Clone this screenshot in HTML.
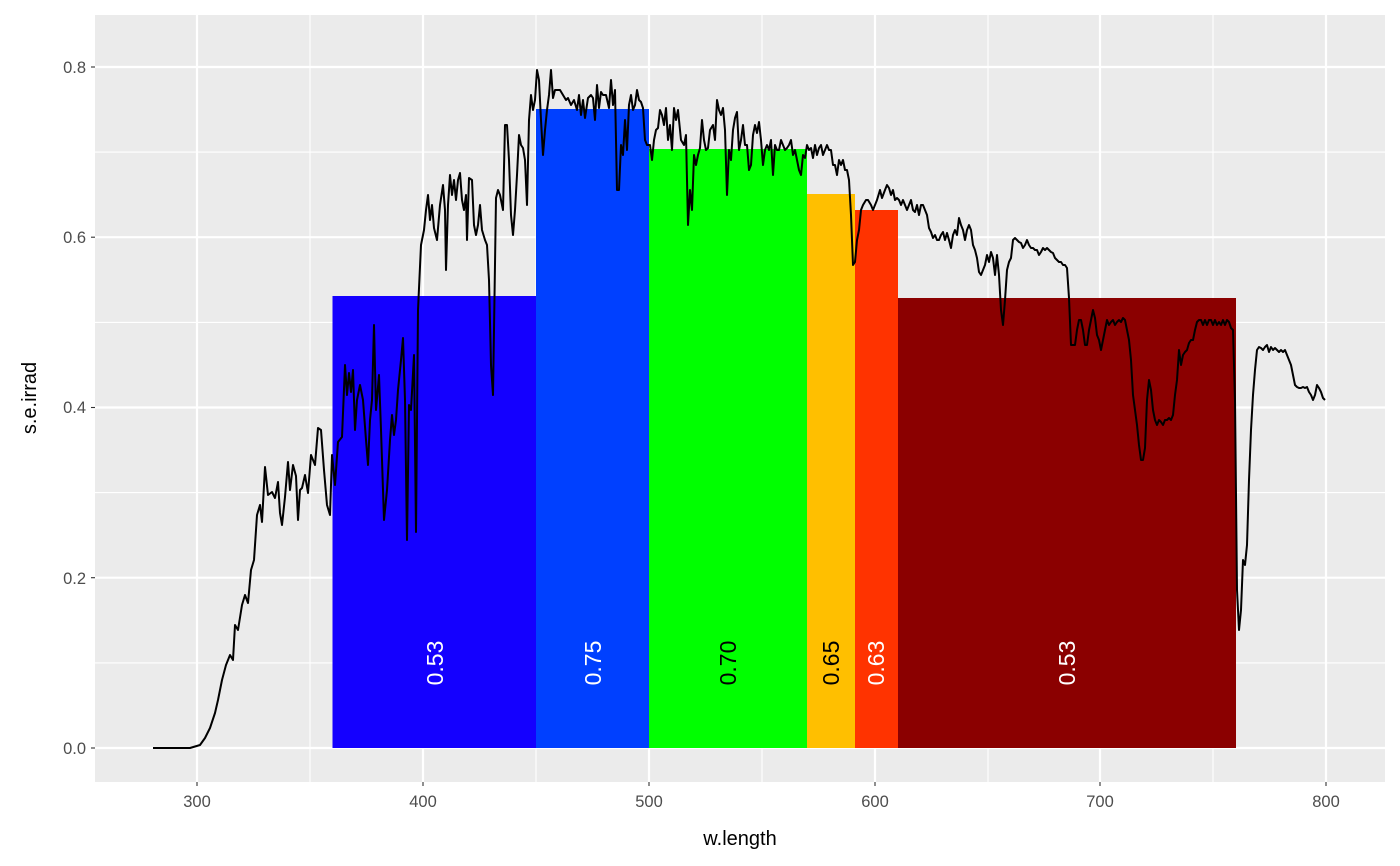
<!DOCTYPE html>
<html><head><meta charset="utf-8"><style>body{margin:0;background:#fff}svg{display:block}</style></head><body>
<svg width="1400" height="866" xmlns="http://www.w3.org/2000/svg" font-family="Liberation Sans, Arial, sans-serif">
<rect x="95" y="15" width="1290" height="767" fill="#EBEBEB"/>
<g stroke="#fff" stroke-width="1.1">
<line x1="95" x2="1385" y1="662.9" y2="662.9"/><line x1="95" x2="1385" y1="492.6" y2="492.6"/><line x1="95" x2="1385" y1="322.4" y2="322.4"/><line x1="95" x2="1385" y1="152.1" y2="152.1"/>
<line y1="15" y2="782" x1="310" x2="310"/><line y1="15" y2="782" x1="536" x2="536"/><line y1="15" y2="782" x1="762" x2="762"/><line y1="15" y2="782" x1="988" x2="988"/><line y1="15" y2="782" x1="1213" x2="1213"/>
</g>
<g stroke="#fff" stroke-width="2.2">
<line x1="95" x2="1385" y1="748" y2="748"/><line x1="95" x2="1385" y1="577.7" y2="577.7"/><line x1="95" x2="1385" y1="407.5" y2="407.5"/><line x1="95" x2="1385" y1="237.2" y2="237.2"/><line x1="95" x2="1385" y1="67" y2="67"/>
<line y1="15" y2="782" x1="197" x2="197"/><line y1="15" y2="782" x1="423" x2="423"/><line y1="15" y2="782" x1="649" x2="649"/><line y1="15" y2="782" x1="875" x2="875"/><line y1="15" y2="782" x1="1100" x2="1100"/><line y1="15" y2="782" x1="1326" x2="1326"/>
</g>
<rect x="332.5" y="296" width="203.5" height="452" fill="#1400FF"/>
<rect x="536" y="109" width="113" height="639" fill="#0040FF"/>
<rect x="649" y="149" width="158" height="599" fill="#00FF00"/>
<rect x="807" y="194" width="48" height="554" fill="#FFBF00"/>
<rect x="855" y="210" width="43" height="538" fill="#FF3300"/>
<rect x="898" y="298" width="338" height="450" fill="#8B0000"/>
<g font-size="23" text-anchor="middle">
<text transform="translate(443,663) rotate(-90)" fill="#fff">0.53</text>
<text transform="translate(601,663) rotate(-90)" fill="#fff">0.75</text>
<text transform="translate(736,663) rotate(-90)" fill="#000">0.70</text>
<text transform="translate(839,663) rotate(-90)" fill="#000">0.65</text>
<text transform="translate(884,663) rotate(-90)" fill="#fff">0.63</text>
<text transform="translate(1075,663) rotate(-90)" fill="#fff">0.53</text>
</g>
<polyline fill="none" stroke="#000" stroke-width="2" stroke-linejoin="round" points="153,748 190,748 200,745 205,738 210,728 215,713 218,700 222,680 226,665 230,655 233,660 235,625 238,630 242,605 245,595 248,603 251,570 254,560 257,515 260,505 262,522 265,467 268,495 272,492 275,498 278,482 280,513 282,525 285,497 288,462 290,490 293,465 296,476 298,520 300,490 302,488 305,475 308,493 311,455 315,465 318,428 321,430 324,470 327,505 330,515 332,455 335,485 338,442 342,437 345,365 347,395 349,373 351,392 353,370 355,430 357,400 360,385 363,400 366,440 368,465 370,420 372,400 374,325 376,410 379,375 381,430 384,520 387,490 390,440 392,415 394,435 396,420 398,390 401,360 403,338 405,400 407,540 409,405 411,410 414,355 416,532 418,310 421,245 424,230 426,210 428,195 430,220 432,205 434,228 437,240 440,205 443,185 445,210 446,270 448,205 450,175 452,195 454,180 456,200 458,180 460,173 462,200 464,210 466,195 467,240 469,178 472,180 474,225 476,235 478,225 480,205 482,230 485,240 487,245 489,280 491,365 493,395 494,330 496,198 498,190 500,195 503,210 505,125 507,125 509,160 511,215 513,235 515,210 517,175 519,135 521,145 523,148 525,160 527,205 529,120 531,95 533,110 535,100 537,70 539,80 541,120 543,155 545,130 547,110 549,95 551,70 553,98 555,90 558,90 560,90 563,95 566,100 568,98 571,105 574,100 577,110 579,95 581,115 583,100 585,118 588,98 591,95 593,98 595,120 597,85 599,108 601,92 603,95 606,95 609,108 611,80 613,105 615,90 617,190 619,190 621,145 623,155 625,120 627,150 629,105 631,95 633,110 635,105 637,90 639,100 641,102 643,108 645,140 647,145 650,145 652,160 654,140 656,130 658,128 660,110 662,115 664,125 666,108 668,140 670,125 672,150 674,108 676,120 678,110 681,140 684,145 686,135 688,225 690,190 692,210 694,155 696,165 698,155 700,148 702,120 704,140 706,150 708,148 710,130 713,125 715,140 717,100 719,110 721,115 723,108 725,130 727,195 729,150 731,160 733,130 735,118 737,112 739,150 741,140 743,125 745,145 747,145 749,170 751,165 753,135 755,125 757,133 759,122 761,140 763,165 765,150 767,145 769,150 771,140 773,175 775,145 777,150 779,150 781,140 783,145 785,150 787,148 789,145 791,140 793,155 795,150 797,160 799,170 801,175 803,155 805,158 807,145 809,150 811,148 813,158 815,145 817,155 819,148 821,145 823,155 825,150 827,145 829,150 831,150 833,165 835,165 837,175 839,160 841,165 843,160 845,170 847,170 849,180 851,215 853,265 855,262 857,240 859,230 861,210 863,205 866,200 868,200 871,205 873,210 875,205 877,200 880,190 882,198 885,190 887,185 889,188 891,195 893,190 895,200 897,198 899,200 901,205 903,200 905,205 907,210 909,205 911,200 913,210 915,212 917,205 919,215 921,205 923,205 925,210 927,215 929,228 931,232 933,238 935,235 937,240 939,240 941,235 943,232 945,240 947,233 949,240 951,248 953,235 955,230 957,235 959,218 961,225 963,230 965,240 967,230 969,225 971,230 973,245 975,250 977,258 979,272 981,275 983,270 985,265 987,255 989,262 991,252 993,258 995,275 997,255 999,275 1001,310 1003,325 1005,300 1007,270 1009,262 1011,258 1013,240 1015,238 1017,240 1019,242 1021,243 1023,248 1025,245 1027,240 1029,245 1031,248 1033,248 1035,250 1037,250 1039,255 1041,252 1043,248 1045,250 1047,248 1049,250 1051,252 1053,253 1055,258 1057,260 1059,262 1061,262 1063,265 1065,265 1067,268 1069,298 1071,345 1073,345 1075,345 1077,330 1079,320 1081,320 1083,330 1085,345 1087,345 1089,330 1091,320 1093,310 1095,318 1097,335 1099,340 1101,350 1103,340 1105,330 1107,320 1109,325 1111,322 1113,320 1115,325 1117,322 1119,320 1121,322 1123,318 1125,320 1127,330 1129,340 1131,360 1133,395 1135,410 1137,425 1139,445 1141,460 1143,460 1145,448 1147,400 1149,380 1151,390 1153,410 1155,420 1157,425 1159,420 1161,422 1163,425 1165,420 1167,420 1169,418 1171,420 1173,415 1175,395 1177,380 1179,350 1181,365 1183,355 1185,352 1187,350 1189,343 1191,340 1193,340 1195,330 1197,322 1199,320 1201,320 1203,325 1205,320 1207,325 1209,320 1211,320 1213,325 1215,320 1217,325 1219,322 1221,325 1223,320 1225,325 1227,320 1229,322 1231,328 1233,330 1235,400 1237,590 1239,630 1241,610 1243,560 1245,565 1247,545 1249,480 1251,430 1253,395 1255,370 1257,350 1259,347 1261,348 1263,350 1265,347 1267,345 1269,352 1271,347 1273,350 1275,348 1277,350 1279,352 1281,350 1283,352 1285,350 1287,355 1289,360 1291,365 1293,375 1295,385 1297,387 1299,388 1301,388 1303,387 1305,388 1307,387 1309,392 1311,395 1313,400 1315,395 1317,385 1319,388 1321,392 1323,398 1325,400"/>
<g stroke="#333" stroke-width="1.1">
<line x1="91" x2="95" y1="748" y2="748"/><line x1="91" x2="95" y1="577.7" y2="577.7"/><line x1="91" x2="95" y1="407.5" y2="407.5"/><line x1="91" x2="95" y1="237.2" y2="237.2"/><line x1="91" x2="95" y1="67" y2="67"/>
<line y1="782" y2="786" x1="197" x2="197"/><line y1="782" y2="786" x1="423" x2="423"/><line y1="782" y2="786" x1="649" x2="649"/><line y1="782" y2="786" x1="875" x2="875"/><line y1="782" y2="786" x1="1100" x2="1100"/><line y1="782" y2="786" x1="1326" x2="1326"/>
</g>
<g font-size="16.5" fill="#4D4D4D" text-anchor="end">
<text x="86" y="754">0.0</text><text x="86" y="584">0.2</text><text x="86" y="413">0.4</text><text x="86" y="243">0.6</text><text x="86" y="73">0.8</text>
</g>
<g font-size="16.5" fill="#4D4D4D" text-anchor="middle">
<text x="197" y="807">300</text><text x="423" y="807">400</text><text x="649" y="807">500</text><text x="875" y="807">600</text><text x="1100" y="807">700</text><text x="1326" y="807">800</text>
</g>
<text x="740" y="845" font-size="20" text-anchor="middle">w.length</text>
<text transform="translate(36,398) rotate(-90)" font-size="20" text-anchor="middle">s.e.irrad</text>
</svg>
</body></html>
